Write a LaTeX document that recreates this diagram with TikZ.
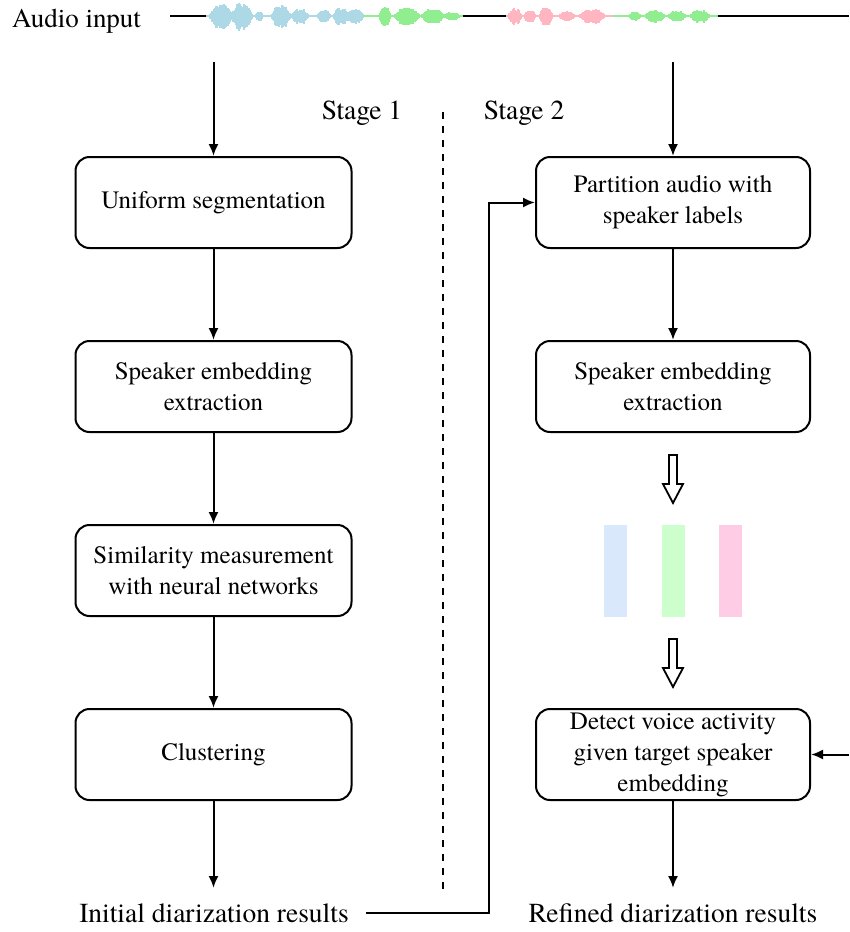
\documentclass[tikz,border=0pt]{standalone}
\usepackage{fontspec}
\IfFontExistsTF{texgyretermes-regular.otf}
  {\setmainfont{texgyretermes-regular.otf}}
  {\setmainfont{Liberation Serif}}
\usetikzlibrary{arrows.meta}

\definecolor{waveblue}{RGB}{173,216,230}
\definecolor{wavegreen}{RGB}{144,238,144}
\definecolor{wavepink}{RGB}{255,182,193}
\definecolor{embblue}{RGB}{218,232,252}
\definecolor{embgreen}{RGB}{204,255,204}
\definecolor{embpink}{RGB}{255,204,230}

% one coloured stretch of the waveform: colour, first x, last x, envelope in \x
\newcommand\wavepart[4]{%
  \draw[#1, line width=1.6pt] (#2,16) -- (#3,16);
  \foreach \x in {#2,...,#3}{%
    \pgfmathsetmacro\amp{(#4)*(0.6+0.4*rnd)+1.0}%
    \draw[#1, line width=1.2pt] (\x,16-\amp) -- (\x,16+1.15*\amp);
  }%
}
% flat-topped burst: centre, half width, height
\newcommand\bump[3]{#3*min(1,1.8*max(0,1-abs(\x-#1)/#2))}

\begin{document}
\begin{tikzpicture}[x=1pt,y=-1pt,
  box/.style={draw, line width=2pt, rounded corners=14pt,
    minimum width=276pt, minimum height=91pt, align=center,
    font=\fontsize{25}{31}\selectfont},
  arr/.style={line width=2pt, -{Latex[length=12pt,width=10pt]}},
  lbl/.style={font=\fontsize{27.5}{32}\selectfont, inner sep=0pt, anchor=base},
  hollow/.style={draw, line width=1.8pt, fill=white, line join=miter}]

\useasboundingbox (0,0) rectangle (849,932);

% ---- audio input line and waveform ----
\node[lbl, font=\fontsize{27}{32}\selectfont] (audio) at (76.5,27) {Audio input};
\draw[line width=2pt] (170,16) -- (208,16);
\draw[line width=2pt] (461,16) -- (508,16);
\draw[line width=2pt] (716,16) -- (849,16);
\pgfmathsetseed{11}
\wavepart{waveblue}{207}{364}{\bump{221}{12}{11}+\bump{242}{11}{13}+\bump{259}{4}{4}+\bump{281}{10}{10}+\bump{300}{9}{6}+\bump{324}{7}{5}+\bump{341}{8}{7}+\bump{355}{9}{6}}
\wavepart{wavegreen}{364}{462}{\bump{385}{6}{8}+\bump{407}{13}{7}+\bump{433}{12}{6}+\bump{452}{8}{3}}
\wavepart{wavepink}{507}{614}{\bump{515}{7}{7}+\bump{530}{6}{5}+\bump{546}{7}{8}+\bump{567}{8}{4}+\bump{592}{13}{6}}
\wavepart{wavegreen}{614}{717}{\bump{635}{6}{3}+\bump{655}{10}{5}+\bump{677}{9}{4}+\bump{700}{10}{5}}

% ---- stage labels and divider ----
\node[lbl] (st1) at (362,119) {Stage 1};
\node[lbl] (st2) at (524,119) {Stage 2};
\draw[line width=2pt, dash pattern=on 7pt off 7pt] (443,112) -- (443,889);

% ---- stage 1 ----
\node[box] (seg) at (213.5,202.5) {Uniform segmentation};
\node[box] (emb1) at (213.5,386.5) {Speaker embedding\\extraction};
\node[box] (sim) at (213.5,570.5) {Similarity measurement\\with neural networks};
\node[box] (clu) at (213.5,754.5) {Clustering};
\node[lbl] (init) at (214,922) {Initial diarization results};

\coordinate (lin) at (213.5,62);
\coordinate (lend) at (213.5,888);
\draw[arr] (lin) -- (seg);
\draw[arr] (seg) -- (emb1);
\draw[arr] (emb1) -- (sim);
\draw[arr] (sim) -- (clu);
\draw[arr] (clu) -- (lend);

% ---- stage 2 ----
\node[box, minimum width=274pt] (part) at (673,202.5) {Partition audio with\\speaker labels};
\node[box, minimum width=274pt] (emb2) at (673,386.5) {Speaker embedding\\extraction};
\node[box, minimum width=274pt] (det) at (673,754.5) {Detect voice activity\\given target speaker\\embedding};
\node[lbl] (refi) at (673,922) {Refined diarization results};

\coordinate (rin) at (673,62);
\coordinate (rend) at (673,888);
\coordinate (bend) at (489,202.5);
\coordinate (side) at (849,754.5);
\draw[arr] (rin) -- (part);
\draw[arr] (part) -- (emb2);
\draw[arr] (det) -- (rend);
\draw[arr] (side) -- (det);
\draw[arr, line join=miter] ([xshift=17pt,yshift=9pt]init.base east) -| (bend) -- (part.west);

% speaker embeddings and hollow arrows
\draw[hollow] (669,455) -- (677,455) -- (677,484) -- (683,484) -- (673,503)
  -- (663,484) -- (669,484) -- cycle;
\fill[embblue] (604,525) rectangle (627,617);
\fill[embgreen] (662,525) rectangle (685,617);
\fill[embpink] (719,525) rectangle (742,617);
\draw[hollow] (669,639) -- (677,639) -- (677,668) -- (683,668) -- (673,687)
  -- (663,668) -- (669,668) -- cycle;
\end{tikzpicture}
\end{document}
